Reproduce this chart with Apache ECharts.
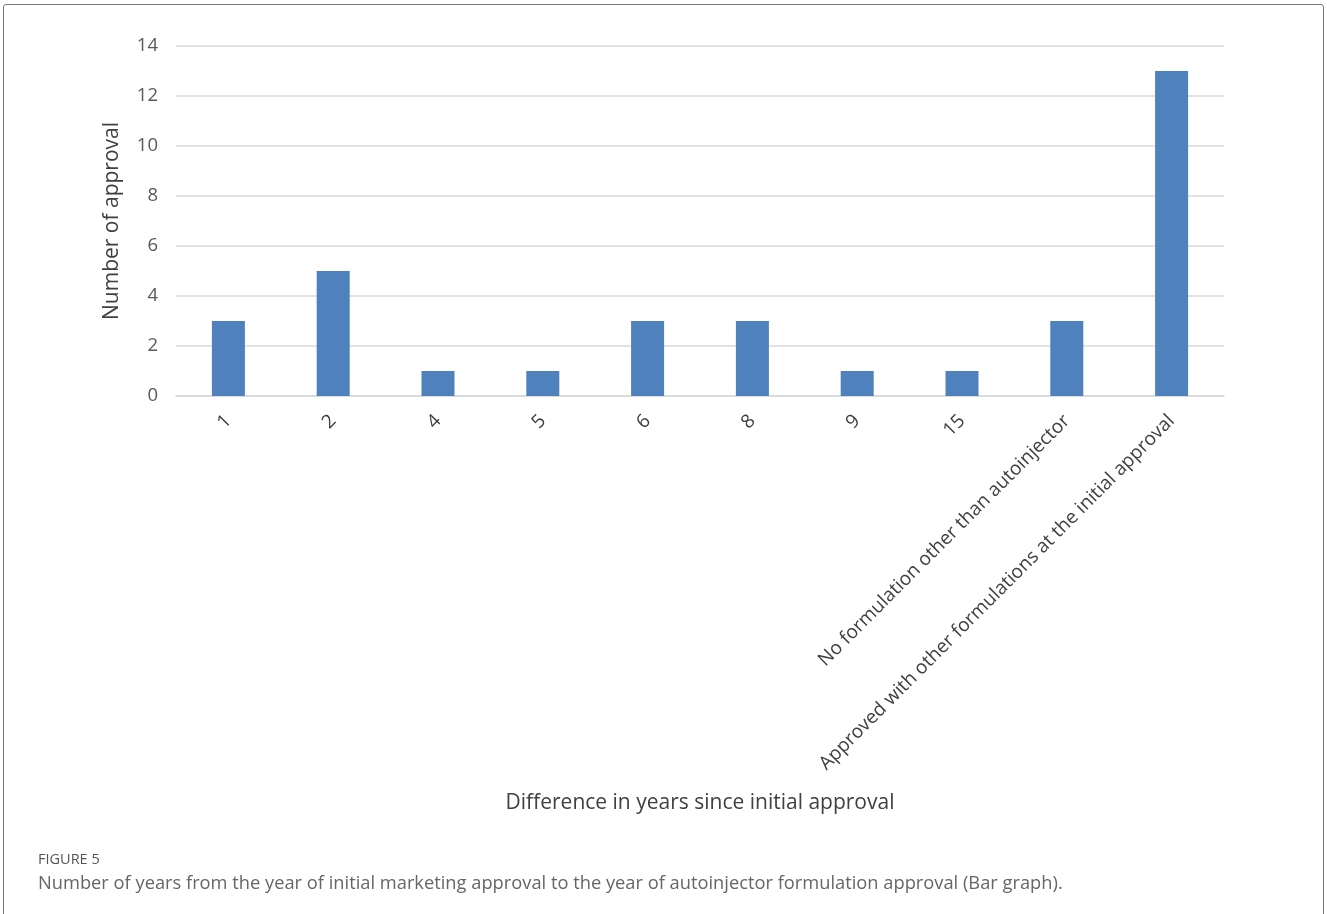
<!DOCTYPE html>
<html>
<head>
<meta charset="utf-8">
<script src="https://cdn.jsdelivr.net/npm/echarts@6/dist/echarts.min.js"></script>
<style>
  html, body { margin: 0; padding: 0; background: #fff; }
  #frame {
    position: absolute; left: 3px; top: 4px; width: 1321px; height: 960px;
    border: 1.5px solid #7a7a7a; border-radius: 3px; box-sizing: border-box;
  }
  #chart { position: absolute; left: 0; top: 0; width: 1327px; height: 914px; }
</style>
</head>
<body>
<div id="frame"></div>
<div id="chart"></div>
<script>
// Categories (years since initial approval) and number of approvals
var categories = ['1', '2', '4', '5', '6', '8', '9', '15',
  'No formulation other than autoinjector',
  'Approved with other formulations at the initial approval'];
var approvals = [3, 5, 1, 1, 3, 3, 1, 1, 3, 13];

var yTicks = { min: 0, max: 14, interval: 2 };

var fontFamily = '"Open Sans", "Noto Sans", sans-serif';

var chart = echarts.init(document.getElementById('chart'), null, { renderer: 'canvas' });

var option = {
  backgroundColor: 'transparent',
  animation: false,
  title: [
    {
      text: 'FIGURE 5',
      left: 33, top: 847,
      textStyle: { fontFamily: fontFamily, fontSize: 14.5, fontWeight: 'normal', color: '#555' }
    },
    {
      text: 'Number of years from the year of initial marketing approval to the year of autoinjector formulation approval (Bar graph).',
      left: 33, top: 870,
      textStyle: { fontFamily: fontFamily, fontSize: 18.3, fontWeight: 'normal', color: '#666' }
    }
  ],
  grid: { left: 176, right: 103, top: 46, bottom: 518, containLabel: false },
  xAxis: {
    type: 'category',
    data: categories,
    name: 'Difference in years since initial approval',
    nameLocation: 'middle',
    nameGap: 397,
    nameTextStyle: { fontFamily: fontFamily, fontSize: 21, color: '#404040' },
    axisLine: { lineStyle: { color: '#d9d9d9', width: 1.5 } },
    axisTick: { show: false },
    axisLabel: {
      rotate: 45,
      interval: 0,
      margin: 22,
      fontFamily: fontFamily,
      fontSize: 19,
      color: '#404040'
    }
  },
  yAxis: {
    type: 'value',
    min: yTicks.min,
    max: yTicks.max,
    interval: yTicks.interval,
    name: 'Number of approval',
    nameLocation: 'middle',
    nameRotate: 90,
    nameGap: 53,
    nameTextStyle: { fontFamily: fontFamily, fontSize: 21, color: '#404040' },
    axisLine: { show: false },
    axisTick: { show: false },
    splitLine: { lineStyle: { color: '#d9d9d9', width: 1.5 } },
    axisLabel: { margin: 18, fontFamily: fontFamily, fontSize: 18.5, color: '#595959' }
  },
  series: [
    {
      type: 'bar',
      data: approvals,
      barWidth: '31.5%',
      itemStyle: { color: '#4f81bd' }
    }
  ]
};

chart.setOption(option);
</script>
</body>
</html>
